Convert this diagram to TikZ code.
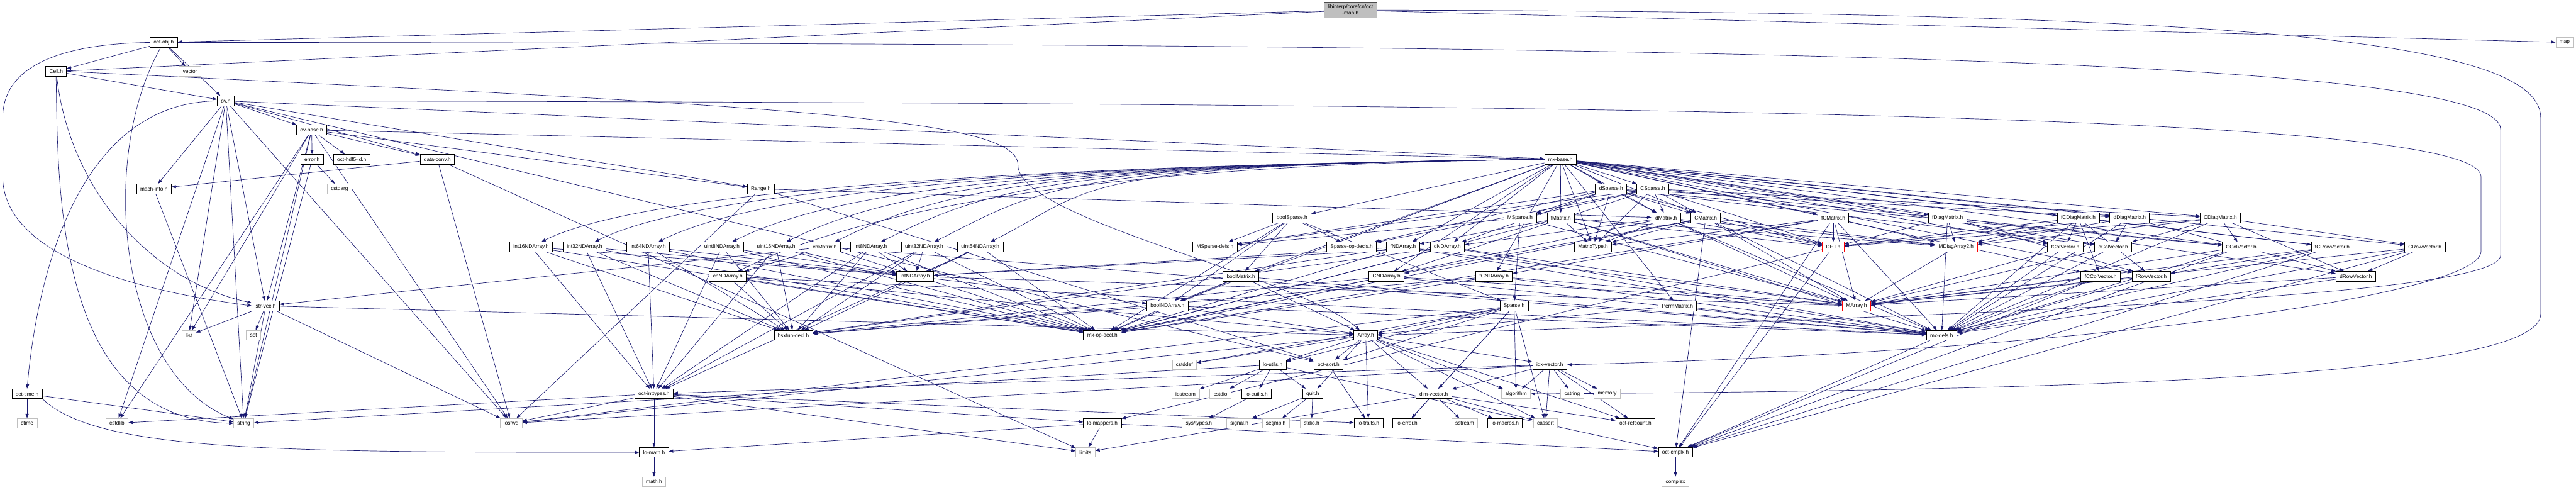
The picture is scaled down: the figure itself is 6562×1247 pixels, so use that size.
\documentclass[tikz,border=0pt]{standalone}
\usepackage{fontspec}
\setmainfont{Liberation Sans}
\usetikzlibrary{arrows.meta,backgrounds,calc}
\definecolor{edgeblue}{HTML}{191970}
\definecolor{sysgray}{HTML}{BFBFBF}
\pgfdeclarelayer{bg}
\pgfdeclarelayer{edges}
\pgfsetlayers{bg,edges,main}
\begin{document}
\begin{tikzpicture}[x=1pt,y=1pt,
 nd/.style={draw=black,fill=white,line width=1.3pt,minimum height=25pt,inner xsep=9.5pt,inner ysep=1pt,font=\fontsize{13.3}{15.5}\selectfont},
 sys/.style={nd,draw=sysgray},
 trunc/.style={nd,draw=red},
 root/.style={nd,fill=sysgray,draw=black!70,align=center,minimum height=40pt},
 e/.style={draw=edgeblue,line width=1.1pt,-{Triangle[length=11pt,width=8pt]}}]
\begin{pgfonlayer}{bg}
\fill[white] (0,0) rectangle (6562,-1247);
\end{pgfonlayer}
\useasboundingbox (0,0) rectangle (6562,-1247);
% rank 0-6
\node[root] (octmap) at (3440,-26) {libinterp/corefcn/oct\\-map.h};
\node[nd] (octobj) at (417,-108) {oct-obj.h};
\node[sys] (map) at (6533,-108) {map};
\node[nd] (cell) at (143,-182) {Cell.h};
\node[sys] (vector) at (484,-182) {vector};
\node[nd] (ovh) at (575,-257) {ov.h};
\node[nd] (ovbase) at (794,-331) {ov-base.h};
\node[nd] (errorh) at (795,-406) {error.h};
\node[nd] (hdf5) at (896,-406) {oct-hdf5-id.h};
\node[nd] (dataconv) at (1114,-406) {data-conv.h};
\node[nd] (mxbase) at (3975,-406) {mx-base.h};
\node[nd] (machinfo) at (392,-481) {mach-info.h};
\node[sys] (cstdarg) at (865,-481) {cstdarg};
\node[nd] (range) at (1938,-481) {Range.h};
\node[nd] (dsparse) at (4104,-481) {dSparse.h};
\node[nd] (csparse) at (4210,-481) {CSparse.h};
% rank 7
\node[nd] (boolsparse) at (3291,-555) {boolSparse.h};
\node[nd] (msparse) at (3872,-555) {MSparse.h};
\node[nd] (fmatrix) at (3976,-555) {fMatrix.h};
\node[nd] (dmatrix) at (4244,-555) {dMatrix.h};
\node[nd] (cmatrix) at (4345,-555) {CMatrix.h};
\node[nd] (fcmatrix) at (4670,-555) {fCMatrix.h};
\node[nd] (fdiagmatrix) at (4961,-555) {fDiagMatrix.h};
\node[nd] (fcdiagmatrix) at (5294,-555) {fCDiagMatrix.h};
\node[nd] (ddiagmatrix) at (5425,-555) {dDiagMatrix.h};
\node[nd] (cdiagmatrix) at (5656,-555) {CDiagMatrix.h};
% rank 8
\node[nd] (int16) at (1353,-629) {int16NDArray.h};
\node[nd] (int32) at (1489,-629) {int32NDArray.h};
\node[nd] (int64) at (1651,-629) {int64NDArray.h};
\node[nd] (uint8) at (1839,-629) {uint8NDArray.h};
\node[nd] (uint16) at (1977,-629) {uint16NDArray.h};
\node[nd] (chmatrix) at (2101,-629) {chMatrix.h};
\node[nd] (int8) at (2218,-629) {int8NDArray.h};
\node[nd] (uint32) at (2354,-629) {uint32NDArray.h};
\node[nd] (uint64) at (2497,-629) {uint64NDArray.h};
\node[nd] (msparsedefs) at (3095,-629) {MSparse-defs.h};
\node[nd] (sparseopdecls) at (3443,-629) {Sparse-op-decls.h};
\node[nd] (fndarray) at (3574,-629) {fNDArray.h};
\node[nd] (dndarray) at (3687,-629) {dNDArray.h};
\node[nd] (matrixtype) at (4058,-629) {MatrixType.h};
\node[trunc] (det) at (4670,-629) {DET.h};
\node[trunc] (mdiagarray2) at (4983,-629) {MDiagArray2.h};
\node[nd] (fcolvector) at (5261,-629) {fColVector.h};
\node[nd] (dcolvector) at (5383,-629) {dColVector.h};
\node[nd] (ccolvector) at (5709,-629) {CColVector.h};
\node[nd] (fcrowvector) at (5941,-629) {fCRowVector.h};
\node[nd] (crowvector) at (6177,-629) {CRowVector.h};
% rank 9
\node[nd] (chndarray) at (1854,-704) {chNDArray.h};
\node[nd] (intndarray) at (2331,-704) {intNDArray.h};
\node[nd] (boolmatrix) at (3161,-704) {boolMatrix.h};
\node[nd] (cndarray) at (3532,-704) {CNDArray.h};
\node[nd] (fcndarray) at (3806,-704) {fCNDArray.h};
\node[nd] (fccolvector) at (5351,-704) {fCColVector.h};
\node[nd] (frowvector) at (5480,-704) {fRowVector.h};
\node[nd] (drowvector) at (6001,-704) {dRowVector.h};
% rank 10
\node[nd] (strvec) at (677,-779) {str-vec.h};
\node[nd] (boolndarray) at (2974,-779) {boolNDArray.h};
\node[nd] (sparse) at (3857,-779) {Sparse.h};
\node[nd] (permmatrix) at (4273,-779) {PermMatrix.h};
\node[trunc] (marray) at (4729,-779) {MArray.h};
% rank 11
\node[sys] (list) at (481,-854) {list};
\node[sys] (set) at (646,-854) {set};
\node[nd] (bsxfun) at (2021,-854) {bsxfun-decl.h};
\node[nd] (mxopdecl) at (2808,-854) {mx-op-decl.h};
\node[nd] (array) at (3479,-854) {Array.h};
\node[nd] (mxdefs) at (4946,-854) {mx-defs.h};
% rank 12
\node[sys] (cstddef) at (3017,-929) {cstddef};
\node[nd] (loutils) at (3242,-929) {lo-utils.h};
\node[nd] (octsort) at (3384,-929) {oct-sort.h};
\node[nd] (idxvector) at (3948,-929) {idx-vector.h};
% rank 13
\node[nd] (octtime) at (69,-1003) {oct-time.h};
\node[nd] (octinttypes) at (1666,-1003) {oct-inttypes.h};
\node[sys] (iostream) at (3020,-1003) {iostream};
\node[sys] (cstdio) at (3109,-1003) {cstdio};
\node[nd] (locutils) at (3201,-1003) {lo-cutils.h};
\node[nd] (quit) at (3344,-1003) {quit.h};
\node[nd] (dimvector) at (3652,-1003) {dim-vector.h};
\node[sys] (algorithm) at (3862,-1003) {algorithm};
\node[sys] (cstring) at (4005,-1003) {cstring};
\node[sys] (memory) at (4094,-1003) {memory};
% rank 14
\node[sys] (ctime) at (69,-1078) {ctime};
\node[sys] (cstdlib) at (298,-1078) {cstdlib};
\node[sys] (string) at (621,-1078) {string};
\node[sys] (iosfwd) at (1302,-1078) {iosfwd};
\node[nd] (lomappers) at (2808,-1078) {lo-mappers.h};
\node[sys] (systypes) at (3054,-1078) {sys/types.h};
\node[sys] (signal) at (3157,-1078) {signal.h};
\node[sys] (setjmp) at (3250,-1078) {setjmp.h};
\node[sys] (stdio) at (3341,-1078) {stdio.h};
\node[nd] (lotraits) at (3486,-1078) {lo-traits.h};
\node[nd] (loerror) at (3584,-1078) {lo-error.h};
\node[sys] (sstream) at (3731,-1078) {sstream};
\node[nd] (lomacros) at (3834,-1078) {lo-macros.h};
\node[sys] (cassert) at (3937,-1078) {cassert};
\node[nd] (octrefcount) at (4166,-1078) {oct-refcount.h};
% rank 15-16
\node[nd] (lomath) at (1666,-1152) {lo-math.h};
\node[sys] (limits) at (2765,-1152) {limits};
\node[nd] (octcmplx) at (4268,-1152) {oct-cmplx.h};
\node[sys] (mathh) at (1666,-1227) {math.h};
\node[sys] (complex) at (4268,-1227) {complex};
% route points
\coordinate (ra1) at (6472,-300); \coordinate (ra2) at (6472,-800);
\coordinate (rb1) at (6370,-330); \coordinate (rb2) at (6370,-650);
\coordinate (rc1) at (6320,-450); \coordinate (rc2) at (6320,-640);
\coordinate (la1) at (7,-300); \coordinate (la2) at (7,-450);
\coordinate (cv1) at (2593,-420);
\begin{pgfonlayer}{edges}
\draw[e] (octmap.east) .. controls (5600,-30) and (6472,-90) .. (ra1) -- (ra2) .. controls (6472,-960) and (5300,-995) .. (algorithm.east);
\draw[e] (octobj.east) .. controls (4500,-110) and (6370,-150) .. (rb1) -- (rb2) .. controls (6370,-760) and (5000,-800) .. (array.east);
\draw[e] (ovh.east) .. controls (4500,-262) and (6320,-300) .. (rc1) -- (rc2) .. controls (6320,-760) and (5200,-900) .. (idxvector.east);
\draw[e] (octobj.west) .. controls (150,-112) and (7,-170) .. (la1) -- (la2) .. controls (7,-600) and (200,-720) .. (strvec.west);
\draw[e] (octobj) .. controls (250,-400) and (300,-950) .. (string);
\draw[e] (cell.south) .. controls (147,-500) and (147,-1070) .. (string.west);
\draw[e] (cell) .. controls (180,-500) and (400,-720) .. (strvec);
\draw[e] (cell.east) .. controls (2000,-270) and (2593,-300) .. (cv1) .. controls (2593,-560) and (3300,-700) .. (array);
\draw[e] (ovh.west) .. controls (200,-262) and (95,-700) .. (octtime.north);
\draw[e] (octtime.south east) .. controls (250,-1150) and (700,-1152) .. (lomath.west);
\foreach \t in {int16,int32,int64,uint8,uint16,chmatrix,int8,uint32,uint64,chndarray}{
  \draw[e] (mxbase.west) .. controls (2700,-420) and ($(\t)+(300,150)$) .. (\t);}
\foreach \s/\t in {octmap/octobj,octmap/cell,octmap/map,
 octobj/cell,octobj/vector,octobj/ovh,cell/ovh,
 ovh/ovbase,ovh/machinfo,ovh/dataconv,ovh/range,ovh/mxbase,ovh/strvec,ovh/cstdlib,ovh/string,ovh/list,ovh/iosfwd,ovh/octsort,
 ovbase/errorh,ovbase/hdf5,ovbase/dataconv,ovbase/range,ovbase/mxbase,ovbase/strvec,ovbase/cstdlib,ovbase/string,ovbase/list,ovbase/iosfwd,
 errorh/cstdarg,errorh/string,dataconv/machinfo,dataconv/limits,dataconv/iosfwd,machinfo/string,
 range/iosfwd,range/dmatrix,range/octsort,
 mxbase/boolmatrix,mxbase/boolndarray,mxbase/cndarray,mxbase/fcndarray,mxbase/fndarray,mxbase/dndarray,mxbase/boolsparse,mxbase/matrixtype,mxbase/dsparse,mxbase/csparse,mxbase/fmatrix,mxbase/dmatrix,mxbase/cmatrix,mxbase/fcmatrix,mxbase/fdiagmatrix,mxbase/fcdiagmatrix,mxbase/ddiagmatrix,mxbase/cdiagmatrix,mxbase/fcolvector,mxbase/dcolvector,mxbase/ccolvector,mxbase/fcrowvector,mxbase/crowvector,mxbase/fccolvector,mxbase/frowvector,mxbase/drowvector,mxbase/permmatrix,
 intndarray/marray,intndarray/boolndarray,
 chmatrix/chndarray,chmatrix/strvec,chmatrix/mxdefs,chmatrix/mxopdecl,
 chndarray/array,chndarray/mxdefs,chndarray/mxopdecl,chndarray/bsxfun,
 boolmatrix/boolndarray,boolmatrix/array,boolmatrix/mxdefs,boolmatrix/mxopdecl,
 boolndarray/array,boolndarray/mxdefs,boolndarray/mxopdecl,boolndarray/bsxfun,
 cmatrix/octcmplx,fcmatrix/octcmplx,
 ccolvector/octcmplx,fccolvector/octcmplx,crowvector/octcmplx,fcrowvector/octcmplx,crowvector/drowvector,fcrowvector/frowvector,
 ddiagmatrix/mdiagarray2,ddiagmatrix/drowvector,ddiagmatrix/dcolvector,ddiagmatrix/det,ddiagmatrix/mxdefs,
 fdiagmatrix/mdiagarray2,fdiagmatrix/frowvector,fdiagmatrix/fcolvector,fdiagmatrix/det,fdiagmatrix/mxdefs,
 cdiagmatrix/mdiagarray2,cdiagmatrix/drowvector,cdiagmatrix/crowvector,cdiagmatrix/dcolvector,cdiagmatrix/ccolvector,cdiagmatrix/det,cdiagmatrix/mxdefs,
 fcdiagmatrix/mdiagarray2,fcdiagmatrix/frowvector,fcdiagmatrix/fcrowvector,fcdiagmatrix/fcolvector,fcdiagmatrix/fccolvector,fcdiagmatrix/det,fcdiagmatrix/mxdefs,
 permmatrix/array,permmatrix/mxdefs,det/octcmplx,det/lomappers,mdiagarray2/marray,
 msparse/marray,msparse/sparse,msparse/msparsedefs,
 boolsparse/sparse,boolsparse/msparsedefs,boolsparse/sparseopdecls,boolsparse/boolmatrix,boolsparse/boolndarray,boolsparse/mxopdecl,
 dsparse/dmatrix,dsparse/dndarray,dsparse/cmatrix,dsparse/dcolvector,dsparse/ccolvector,dsparse/det,dsparse/msparse,dsparse/msparsedefs,dsparse/sparseopdecls,dsparse/matrixtype,dsparse/ddiagmatrix,
 csparse/cmatrix,csparse/cndarray,csparse/ccolvector,csparse/det,csparse/msparse,csparse/msparsedefs,csparse/sparseopdecls,csparse/matrixtype,csparse/cdiagmatrix,csparse/dmatrix,
 sparse/array,sparse/algorithm,sparse/cassert,sparse/loerror,sparse/dimvector,sparse/loutils,sparse/octsort,sparse/iosfwd,sparse/cstddef,
 array/cassert,array/cstddef,array/algorithm,array/iosfwd,array/dimvector,array/idxvector,array/lotraits,array/loutils,array/octsort,array/quit,array/octrefcount,
 mxdefs/octcmplx,
 loutils/cstdio,loutils/iostream,loutils/string,loutils/quit,loutils/locutils,loutils/octcmplx,
 locutils/systypes,quit/signal,quit/setjmp,quit/stdio,octsort/lotraits,
 idxvector/algorithm,idxvector/cstring,idxvector/memory,idxvector/cassert,idxvector/dimvector,idxvector/octrefcount,idxvector/iosfwd,idxvector/octinttypes,
 dimvector/loerror,dimvector/sstream,dimvector/lomacros,dimvector/cassert,dimvector/octrefcount,dimvector/limits,
 octinttypes/lomath,octinttypes/iosfwd,octinttypes/limits,octinttypes/lotraits,octinttypes/lomappers,octinttypes/cstdlib,
 lomappers/limits,lomappers/lomath,lomappers/octcmplx,octcmplx/complex,lomath/mathh,
 strvec/list,strvec/set,strvec/string,strvec/iosfwd,strvec/array,
 octtime/ctime,octtime/string}{\draw[e] (\s) -- (\t);}
\foreach \s in {int8,int16,int32,int64,uint8,uint16,uint32,uint64}{
  \foreach \t in {intndarray,mxopdecl,bsxfun,octinttypes}{\draw[e] (\s) -- (\t);}}
\foreach \s in {dndarray,fndarray}{
  \foreach \t in {marray,intndarray,mxdefs,mxopdecl,bsxfun}{\draw[e] (\s) -- (\t);}}
\foreach \s in {cndarray,fcndarray}{
  \foreach \t in {marray,mxdefs,mxopdecl,bsxfun}{\draw[e] (\s) -- (\t);}}
\foreach \s/\n in {dmatrix/dndarray,fmatrix/fndarray,cmatrix/cndarray,fcmatrix/fcndarray}{
  \foreach \t in {\n,marray,mdiagarray2,matrixtype,mxdefs,mxopdecl,det}{\draw[e] (\s) -- (\t);}}
\foreach \s in {dcolvector,fcolvector,ccolvector,fccolvector,drowvector,frowvector,crowvector,fcrowvector}{
  \foreach \t in {marray,mxdefs}{\draw[e] (\s) -- (\t);}}
\end{pgfonlayer}
\end{tikzpicture}
\end{document}
